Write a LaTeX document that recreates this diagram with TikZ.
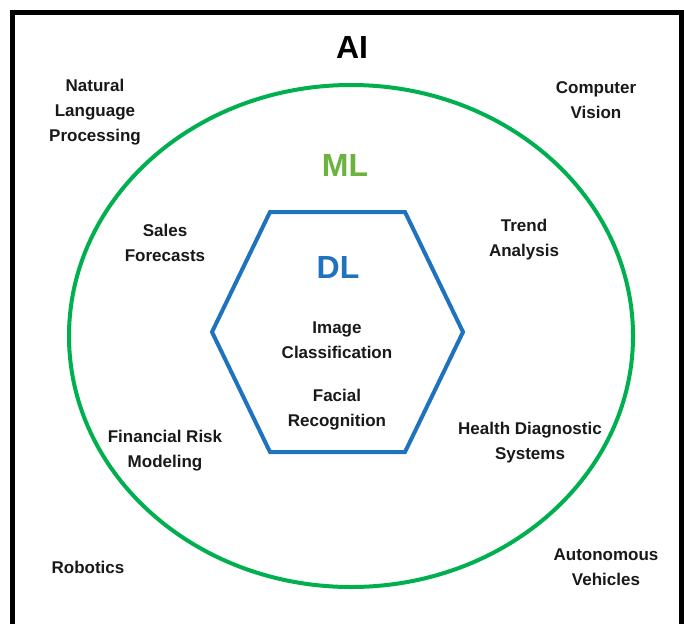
\documentclass[tikz,border=0pt]{standalone}
\usepackage{fontspec}
\setmainfont{Liberation Sans}
\definecolor{aigreen}{HTML}{00B050}
\definecolor{mlgreen}{HTML}{6AB43E}
\definecolor{dlblue}{HTML}{1F72BE}
\tikzset{
  lbl/.style={align=center, inner sep=0pt, font=\fontsize{17}{25}\selectfont\bfseries, text=black!90},
  big/.style={inner sep=0pt, font=\fontsize{32}{36}\selectfont\bfseries}
}
\begin{document}
\begin{tikzpicture}[x=1pt,y=-1pt]
\useasboundingbox (0,0) rectangle (684,623);
\fill[white] (0,0) rectangle (684,623);
% frame
\draw[line width=4.5pt, black] (12.5,660) -- (12.5,12.5) -- (681.5,12.5) -- (681.5,660);
% AI ellipse
\draw[line width=4pt, aigreen] (351,336) ellipse [x radius=282, y radius=251];
% DL hexagon
\draw[line width=4pt, dlblue, line join=miter]
  (270,212) -- (405,212) -- (463,332) -- (405,452) -- (270,452) -- (212,332) -- cycle;
% titles
\node[big] (ai) at (352,47) {AI};
\node[big, text=mlgreen] (ml) at (345,165) {ML};
\node[big, text=dlblue] (dl) at (338,267) {DL};
% labels
\node[lbl] (nlp) at (95,112) {Natural\\Language\\Processing};
\node[lbl] (cv) at (596,100) {Computer\\Vision};
\node[lbl] (sales) at (165,243) {Sales\\Forecasts};
\node[lbl] (trend) at (524,240) {Trend\\Analysis};
\node[lbl] (img) at (337,340) {Image\\Classification};
\node[lbl] (face) at (337,410) {Facial\\Recognition};
\node[lbl] (fin) at (165,451) {Financial Risk\\Modeling};
\node[lbl] (health) at (530,443) {Health Diagnostic\\Systems};
\node[lbl] (robot) at (88,567) {Robotics};
\node[lbl] (auto) at (606,567) {Autonomous\\Vehicles};
\end{tikzpicture}
\end{document}
